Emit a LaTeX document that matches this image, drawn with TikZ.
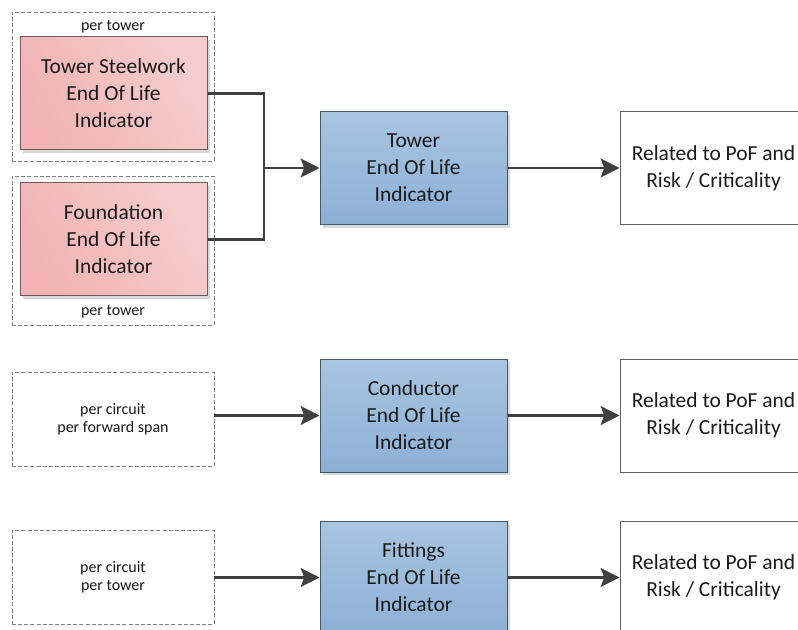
\documentclass[tikz,border=0pt]{standalone}
\usepackage{fontspec}
\setmainfont{Carlito}
\usetikzlibrary{arrows.meta,shadows}

\definecolor{grpline}{HTML}{7F7F7F}
\definecolor{redA}{HTML}{F1B3B3}
\definecolor{redB}{HTML}{F6CDCD}
\definecolor{redline}{HTML}{6E5A5A}
\definecolor{blueA}{HTML}{A8C5E0}
\definecolor{blueB}{HTML}{8CB0D6}
\definecolor{blueline}{HTML}{4A5662}
\definecolor{outline}{HTML}{5F5F5F}
\definecolor{linkc}{HTML}{404040}
\definecolor{shadowc}{HTML}{D9D9D9}
\definecolor{txt}{HTML}{1A1A1A}

\tikzset{
  bigtext/.style={font=\fontsize{16.1}{20.25}\selectfont, text=txt, align=center},
  smalltext/.style={font=\fontsize{12}{13.5}\selectfont, text=txt, align=center},
  group/.style={draw=grpline, line width=0.6pt, dash pattern=on 3pt off 1.6pt,
    minimum width=151.5pt, inner sep=0pt},
  boxshadow/.style={drop shadow={shadow xshift=2.6pt, shadow yshift=-2.6pt,
    fill=shadowc, opacity=1}},
  redbox/.style={bigtext, boxshadow, draw=redline, line width=0.75pt,
    left color=redA, right color=redB, shading angle=120,
    minimum width=140.25pt, minimum height=84.75pt, inner sep=0pt},
  bluebox/.style={bigtext, boxshadow, draw=blueline, line width=0.75pt,
    top color=blueA, bottom color=blueB,
    minimum width=140.25pt, minimum height=84.75pt, inner sep=0pt},
  outbox/.style={bigtext, draw=outline, line width=0.75pt, fill=white,
    minimum width=140.25pt, minimum height=84.75pt, inner sep=0pt},
  link/.style={draw=linkc, line width=2.1pt},
  flow/.style={link, -{Stealth[length=14pt, width=14pt, inset=2.5pt]}},
}

\begin{document}
\begin{tikzpicture}[x=0.75pt, y=-0.75pt]
  \clip (0,0) rectangle (798,630);
  \fill[white] (0,0) rectangle (798,630);

  % --- tower: steelwork and foundation feed the tower indicator ---
  \node[group, minimum height=111.75pt] (g1) at (113,86.5) {};
  \node[smalltext] (g1lab) at (113,27) {per tower};
  \node[redbox] (steel) at (113.5,93.5) {Tower Steelwork\\End Of Life\\Indicator};

  \node[group, minimum height=111.75pt] (g2) at (113,250.5) {};
  \node[smalltext] (g2lab) at (113,312) {per tower};
  \node[redbox] (found) at (113.5,239.5) {Foundation\\End Of Life\\Indicator};

  \node[bluebox] (tower) at (413.5,168) {Tower\\End Of Life\\Indicator};
  \node[outbox] (risk1) at (713.5,168.5) {Related to PoF and\\Risk / Criticality};

  \coordinate (join) at (264,168);
  \draw[link] (steel.east) -| (join);
  \draw[link] (found.east) -| (join);
  \draw[flow] (join) -- (tower.west);
  \draw[flow] (tower.east) -- (risk1.west |- tower.east);

  % --- conductor ---
  \node[group, smalltext, minimum height=70.5pt] (g3) at (113,419)
    {per circuit\\per forward span};
  \node[bluebox] (cond) at (413.5,415.5) {Conductor\\End Of Life\\Indicator};
  \node[outbox] (risk2) at (713.5,415.5) {Related to PoF and\\Risk / Criticality};
  \draw[flow] (g3.east |- cond.west) -- (cond.west);
  \draw[flow] (cond.east) -- (risk2.west);

  % --- fittings ---
  \node[group, smalltext, minimum height=70.5pt] (g4) at (113,577)
    {per circuit\\per tower};
  \node[bluebox] (fit) at (413.5,577.5) {Fittings\\End Of Life\\Indicator};
  \node[outbox] (risk3) at (713.5,577.5) {Related to PoF and\\Risk / Criticality};
  \draw[flow] (g4.east |- fit.west) -- (fit.west);
  \draw[flow] (fit.east) -- (risk3.west);
\end{tikzpicture}
\end{document}
